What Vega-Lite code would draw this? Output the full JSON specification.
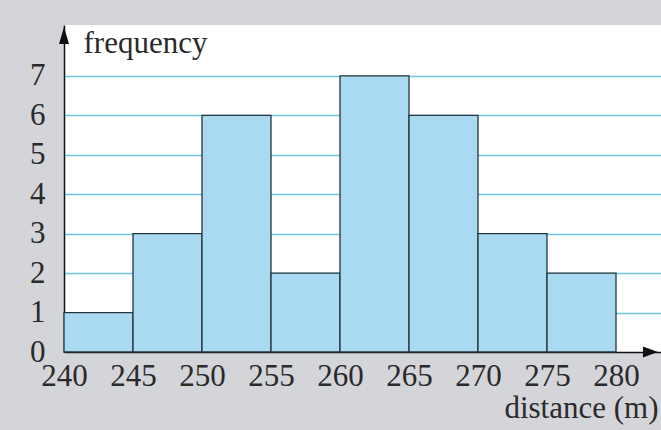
{
  "$schema": "https://vega.github.io/schema/vega-lite/v6.json",
  "autosize": "none",
  "width": 597,
  "height": 327,
  "padding": {"left": 64, "top": 25, "right": 0, "bottom": 78},
  "background": "#d4d5d9",
  "view": {"fill": "white", "stroke": null},
  "config": {
    "font": "Liberation Serif, Times New Roman, serif",
    "axis": {"labelFont": "Liberation Serif, Times New Roman, serif", "titleFont": "Liberation Serif, Times New Roman, serif", "labelColor": "#2a2a2a", "titleColor": "#2a2a2a", "titleFontWeight": "normal"}
  },
  "datasets": {
    "bins": [
      {"start": 240, "end": 245, "frequency": 1},
      {"start": 245, "end": 250, "frequency": 3},
      {"start": 250, "end": 255, "frequency": 6},
      {"start": 255, "end": 260, "frequency": 2},
      {"start": 260, "end": 265, "frequency": 7},
      {"start": 265, "end": 270, "frequency": 6},
      {"start": 270, "end": 275, "frequency": 3},
      {"start": 275, "end": 280, "frequency": 2}
    ],
    "arrows": [
      {"x": 240, "y": 8.24, "dir": "up"},
      {"x": 283.04, "y": 0, "dir": "right"}
    ]
  },
  "layer": [
    {
      "data": {"name": "bins"},
      "mark": {"type": "rect", "fill": "#a9daf1", "stroke": "#26343d", "strokeWidth": 1.3},
      "encoding": {
        "x": {
          "field": "start", "type": "quantitative",
          "scale": {"domain": [240, 283.26], "nice": false, "zero": false},
          "axis": {
            "values": [240, 245, 250, 255, 260, 265, 270, 275, 280],
            "grid": false, "ticks": false,
            "domainColor": "#111111", "domainWidth": 1.5,
            "labelFontSize": 31, "labelPadding": 9, "labelFlush": false,
            "title": "distance (m)", "titleFontSize": 31,
            "titleAnchor": "end", "titleAlign": "right", "titleBaseline": "alphabetic",
            "titleX": 594, "titleY": 65
          }
        },
        "x2": {"field": "end"},
        "y": {
          "field": "frequency", "type": "quantitative",
          "scale": {"domain": [0, 8.29], "nice": false},
          "axis": {
            "values": [0, 1, 2, 3, 4, 5, 6, 7],
            "grid": true,
            "gridColor": {"condition": {"test": "datum.value == 0", "value": "transparent"}, "value": "#6cc6de"},
            "gridWidth": 1.5,
            "ticks": false,
            "domainColor": "#111111", "domainWidth": 1.5,
            "labelFontSize": 31, "labelPadding": 19, "labelFlush": false,
            "title": "frequency", "titleFontSize": 31, "titleAngle": 0,
            "titleAlign": "left", "titleBaseline": "alphabetic",
            "titleX": 19, "titleY": 27
          }
        },
        "y2": {"datum": 0}
      }
    },
    {
      "data": {"name": "arrows"},
      "transform": [{"filter": "datum.dir == 'up'"}],
      "mark": {"type": "point", "filled": true, "color": "#111111", "opacity": 1, "size": 400, "shape": "M0,0L-0.5,1.7L0.5,1.7Z"},
      "encoding": {
        "x": {"field": "x", "type": "quantitative"},
        "y": {"field": "y", "type": "quantitative"}
      }
    },
    {
      "data": {"name": "arrows"},
      "transform": [{"filter": "datum.dir == 'right'"}],
      "mark": {"type": "point", "filled": true, "color": "#111111", "opacity": 1, "size": 400, "shape": "M0,0L-1.5,-0.55L-1.5,0.55Z"},
      "encoding": {
        "x": {"field": "x", "type": "quantitative"},
        "y": {"field": "y", "type": "quantitative"}
      }
    }
  ]
}
